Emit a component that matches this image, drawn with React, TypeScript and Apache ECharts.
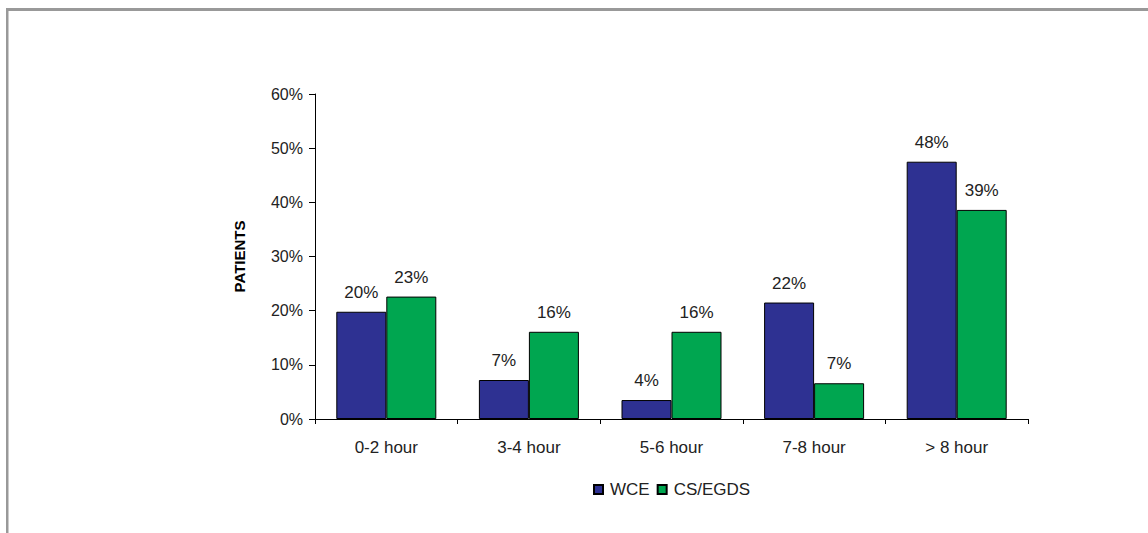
import React, { useEffect, useRef } from "react";
import * as echarts from "echarts";

const categories = ["0-2 hour", "3-4 hour", "5-6 hour", "7-8 hour", "> 8 hour"];
const wceValues = [19.8, 7.2, 3.5, 21.5, 47.5];
const csegdsValues = [22.6, 16.1, 16.1, 6.6, 38.6];
const seriesNames = ["WCE", "CS/EGDS"];
const yTicks = [0, 10, 20, 30, 40, 50, 60];

export default function App() {
  const ref = useRef<HTMLDivElement>(null);
  useEffect(() => {
    if (!ref.current) return;
    const chart = echarts.init(ref.current, null, { renderer: "svg" });
    const font = "'Liberation Sans', Arial, sans-serif";
    const labelCfg = {
      show: true,
      position: "top",
      distance: 11,
      color: "#222",
      fontSize: 17,
      fontFamily: font,
      formatter: (p: any) => Math.round(p.value) + "%",
    };
    chart.setOption({
      animation: false,
      backgroundColor: "#fff",
      graphic: [
        { type: "rect", shape: { x: 6, y: 8, width: 1142, height: 3 }, style: { fill: "#999" } },
        { type: "rect", shape: { x: 6, y: 8, width: 2.5, height: 525 }, style: { fill: "#999" } },
      ],
      grid: { left: 315, right: 120, top: 94, bottom: 114 },
      legend: {
        data: seriesNames,
        left: 588,
        top: 476,
        itemWidth: 9,
        itemHeight: 9,
        itemGap: 7,
        icon: "rect",
        textStyle: { fontSize: 17, color: "#222", fontFamily: font, padding: [0, 0, 0, 2] },
      },
      xAxis: {
        type: "category",
        data: categories,
        axisLine: { lineStyle: { color: "#000", width: 1 } },
        axisTick: { show: true, length: 5, lineStyle: { color: "#000" } },
        axisLabel: { color: "#222", fontSize: 17, fontFamily: font, margin: 20 },
      },
      yAxis: {
        type: "value",
        min: yTicks[0],
        max: yTicks[yTicks.length - 1],
        interval: 10,
        name: "PATIENTS",
        nameLocation: "middle",
        nameGap: 68,
        nameRotate: 90,
        nameTextStyle: { fontSize: 15, fontWeight: "bold", color: "#000", fontFamily: font },
        axisLine: { show: true, lineStyle: { color: "#000", width: 1 } },
        axisTick: { show: true, length: 6, lineStyle: { color: "#000" } },
        splitLine: { show: false },
        axisLabel: { color: "#222", fontSize: 16, fontFamily: font, margin: 12, formatter: "{value}%" },
      },
      series: [
        {
          name: seriesNames[0],
          type: "bar",
          data: wceValues,
          barWidth: 50,
          barGap: "0%",
          itemStyle: { color: "#2E3192", borderColor: "#000", borderWidth: 1 },
          label: labelCfg,
        },
        {
          name: seriesNames[1],
          type: "bar",
          data: csegdsValues,
          barWidth: 50,
          barGap: "0%",
          itemStyle: { color: "#00A650", borderColor: "#000", borderWidth: 1 },
          label: labelCfg,
        },
      ],
    });
    return () => chart.dispose();
  }, []);
  return (
    <div
      ref={ref}
      style={{ position: "absolute", left: 0, top: 0, width: 1148, height: 533 }}
    />
  );
}
